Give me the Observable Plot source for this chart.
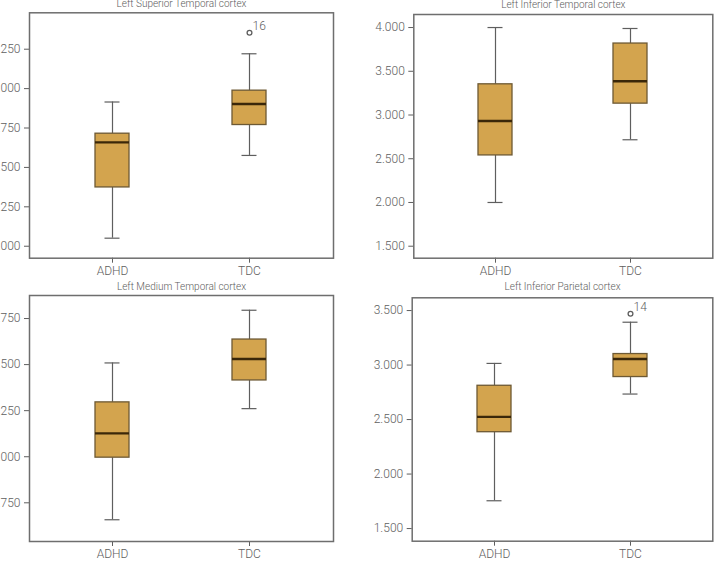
<!DOCTYPE html>
<html>
<head>
<meta charset="utf-8">
<script src="https://cdn.jsdelivr.net/npm/d3@7"></script>
<script src="https://cdn.jsdelivr.net/npm/@observablehq/plot@0.6"></script>
<style>
  html, body { margin: 0; padding: 0; background: #fff; }
  #wrap { position: relative; width: 715px; height: 563px; overflow: hidden; background: #fff; }
  #wrap > svg { position: absolute; }
</style>
</head>
<body>
<div id="wrap"></div>
<script>
// Cortical thickness (mm) by group, summarised as box-plot statistics.
const groups = ["ADHD", "TDC"];

const regions = [
  "Left Superior Temporal cortex",
  "Left Inferior Temporal cortex",
  "Left Medium Temporal cortex",
  "Left Inferior Parietal cortex"
];

// Per region: [ADHD, TDC]
const whiskerLow  = [[2.051, 2.576], [2.000, 2.717], [2.658, 3.261], [1.755, 2.734]];
const quartile1   = [[2.373, 2.769], [2.538, 3.130], [2.995, 3.414], [2.384, 2.890]];
const medians     = [[2.659, 2.902], [2.931, 3.386], [3.127, 3.530], [2.525, 3.055]];
const quartile3   = [[2.714, 2.987], [3.351, 3.817], [3.295, 3.636], [2.810, 3.101]];
const whiskerHigh = [[2.915, 3.221], [4.000, 3.989], [3.509, 3.795], [3.015, 3.393]];

// Outlying cases: region index, group, value, case number
const outliers = [
  {region: 0, group: "TDC", value: 3.354, id: "16"},
  {region: 3, group: "TDC", value: 3.470, id: "14"}
];

// Y tick values and axis domains per region
const yTicks = [
  [2.000, 2.250, 2.500, 2.750, 3.000, 3.250],
  [1.500, 2.000, 2.500, 3.000, 3.500, 4.000],
  [2.750, 3.000, 3.250, 3.500, 3.750],
  [1.500, 2.000, 2.500, 3.000, 3.500]
];
const yDomains = [[1.924, 3.481], [1.363, 4.149], [2.540, 3.875], [1.384, 3.617]];

// Panel placement on the page (svg box and inner margins)
const panels = [
  {left: -21, top: -10, width: 360, height: 298, mt: 22.3, mb: 30.3, ml: 50, mr: 6, titleDy: -6},
  {left: 358, top: -10, width: 357, height: 298, mt: 24, mb: 30.3, ml: 55.3, mr: 2.7, titleDy: -7},
  {left: -21, top: 275, width: 360, height: 296, mt: 20, mb: 30, ml: 50, mr: 6, titleDy: -6},
  {left: 358, top: 275, width: 357, height: 296, mt: 22.3, mb: 30.3, ml: 53.7, mr: 2.7, titleDy: -8}
];

const fmt = d3.format(".3f");
const ink = "#5e5e5e";
const fill = "#d3a44e";
const edge = "#6d5934";
const medianInk = "#3a2709";

const wrap = document.getElementById("wrap");

regions.forEach((name, r) => {
  const p = panels[r];
  const rows = groups.map((g, i) => ({
    group: g,
    lo: whiskerLow[r][i], q1: quartile1[r][i], med: medians[r][i],
    q3: quartile3[r][i], hi: whiskerHigh[r][i]
  }));
  const outs = outliers.filter(o => o.region === r);

  const chart = Plot.plot({
    width: p.width,
    height: p.height,
    marginTop: p.mt,
    marginBottom: p.mb,
    marginLeft: p.ml,
    marginRight: p.mr,
    style: {fontFamily: "Roboto, 'Liberation Sans', sans-serif", fontSize: "12px", fontWeight: 300, color: ink, background: "white"},
    x: {domain: groups, paddingInner: 0.75, paddingOuter: 0.48, label: null, tickSize: 5, tickPadding: 3},
    y: {domain: yDomains[r], ticks: yTicks[r], tickFormat: fmt, label: null, tickSize: 5, tickPadding: 4},
    marks: [
      // whiskers
      Plot.ruleX(rows, {x: "group", y1: "lo", y2: "q1", stroke: ink, strokeWidth: 1.2}),
      Plot.ruleX(rows, {x: "group", y1: "q3", y2: "hi", stroke: ink, strokeWidth: 1.2}),
      Plot.tickY(rows, {x: "group", y: "lo", stroke: ink, strokeWidth: 1.2, inset: 9.5}),
      Plot.tickY(rows, {x: "group", y: "hi", stroke: ink, strokeWidth: 1.2, inset: 9.5}),
      // boxes
      Plot.barY(rows, {x: "group", y1: "q1", y2: "q3", fill: fill, stroke: edge, strokeWidth: 1.3}),
      // medians
      Plot.tickY(rows, {x: "group", y: "med", stroke: medianInk, strokeWidth: 2.4}),
      // outliers
      Plot.dot(outs, {x: "group", y: "value", r: 2.4, stroke: ink, strokeWidth: 1.3, fill: "white"}),
      Plot.text(outs, {x: "group", y: "value", text: "id", dx: 3, dy: -7, textAnchor: "start", fill: ink, fontSize: 12}),
      // panel title
      Plot.text([name], {frameAnchor: "top", lineAnchor: "bottom", dy: p.titleDy, fontSize: 10, fill: ink}),
      Plot.frame({stroke: "#6e6e6e", strokeWidth: 1.5})
    ]
  });
  chart.style.left = p.left + "px";
  chart.style.top = p.top + "px";
  chart.style.maxWidth = "none";
  wrap.appendChild(chart);
});
</script>
</body>
</html>
